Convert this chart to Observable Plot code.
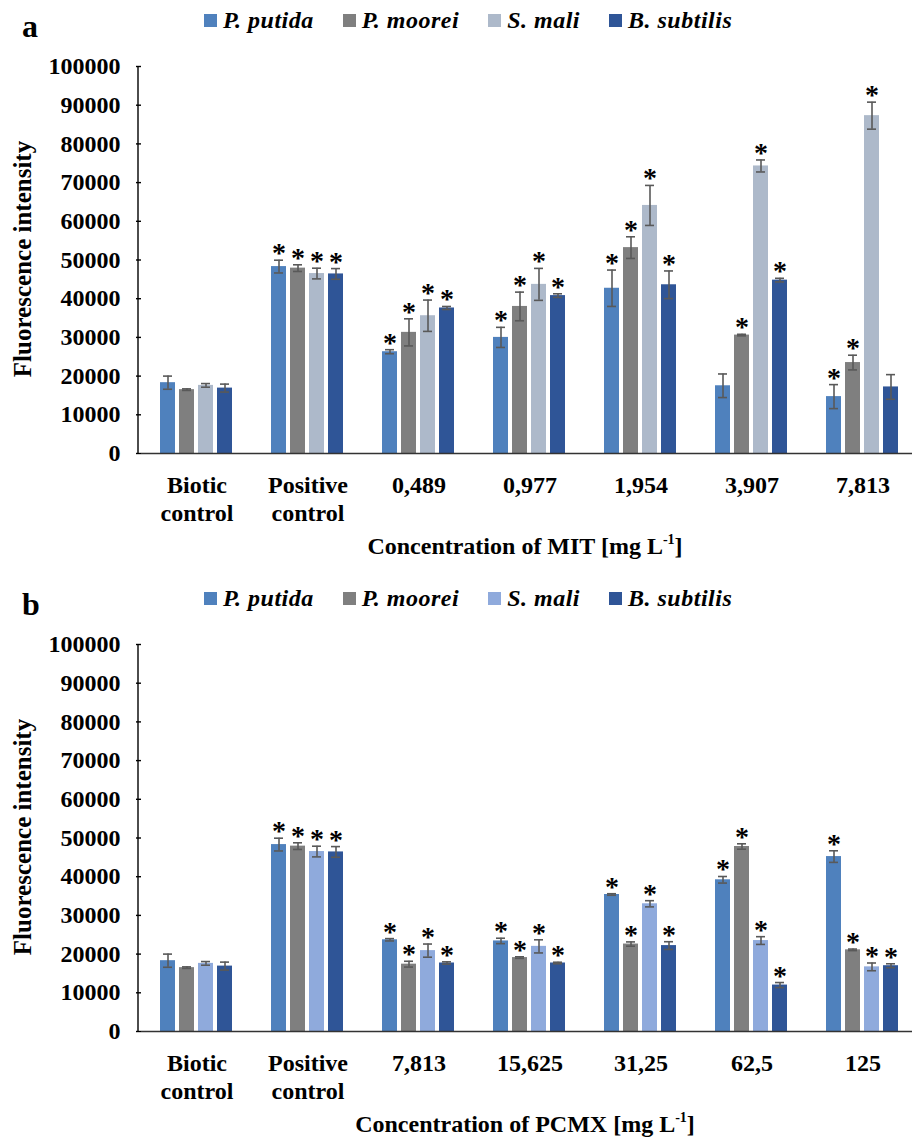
<!DOCTYPE html>
<html>
<head>
<meta charset="utf-8">
<script src="https://cdn.jsdelivr.net/npm/d3@7"></script>
<script src="https://cdn.jsdelivr.net/npm/@observablehq/plot@0.6"></script>
<style>
  html, body { margin: 0; padding: 0; background: #fff; overflow: hidden; }
  #root { position: relative; width: 912px; height: 1138px; overflow: hidden;
          font-family: 'Liberation Serif', 'Times New Roman', serif; color: #000; }
  .panel { position: absolute; left: 0; width: 912px; height: 560px; }
  .panel svg { position: absolute; left: 0; top: 0; overflow: visible; }
  .tag { position: absolute; left: 22px; top: 10px; font-weight: bold; font-size: 32px; line-height: 32px; }
  .legend { position: absolute; left: 204px; top: 8px; display: flex; align-items: center; gap: 29px;
            font-weight: bold; font-style: italic; font-size: 24px; line-height: 24px; letter-spacing: 0.5px; white-space: nowrap; }
  .legend .item { display: flex; align-items: center; }
  .legend .sw { width: 13px; height: 13px; margin-right: 6px; }
  .ylabel { position: absolute; left: -177px; top: 244px; width: 400px; height: 30px; line-height: 30px;
            text-align: center; font-weight: bold; font-size: 25px; transform: rotate(-90deg); white-space: nowrap; }
  .xtitle { position: absolute; left: 138px; width: 774px; top: 531px; text-align: center;
            font-weight: bold; font-size: 24px; line-height: 30px; white-space: nowrap; }
  .xtitle sup { font-size: 14px; vertical-align: baseline; position: relative; top: -10px; }
</style>
</head>
<body>
<div id="root"></div>
<script>
// Species shown in both panels
const species = ["P. putida", "P. moorei", "S. mali", "B. subtilis"];

// Panel a: MIT concentrations [mg L-1]
const groupsMIT = ["Biotic control", "Positive control", "0,489", "0,977", "1,954", "3,907", "7,813"];
const putidaMIT   = [18300, 48300, 26300, 30000, 42700, 17500, 14700];
const mooreiMIT   = [16500, 47900, 31300, 38000, 53200, 30600, 23500];
const maliMIT     = [17600, 46500, 35600, 43700, 64100, 74300, 87300];
const subtilisMIT = [16900, 46400, 37600, 40800, 43600, 44800, 17200];
const putidaMITErr   = [1700, 1650, 520, 2600, 4700, 3050, 3100];
const mooreiMITErr   = [200, 860, 3500, 3700, 2800, 200, 1900];
const maliMITErr     = [470, 1380, 4050, 4130, 5170, 1550, 3490];
const subtilisMITErr = [1030, 1380, 390, 470, 3570, 470, 3180];
// significance markers (1 = asterisk drawn)
const putidaMITSig   = [0, 1, 1, 1, 1, 0, 1];
const mooreiMITSig   = [0, 1, 1, 1, 1, 1, 1];
const maliMITSig     = [0, 1, 1, 1, 1, 1, 1];
const subtilisMITSig = [0, 1, 1, 1, 1, 1, 0];

// Panel b: PCMX concentrations [mg L-1]
const groupsPCMX = ["Biotic control", "Positive control", "7,813", "15,625", "31,25", "62,5", "125"];
const putidaPCMX   = [18300, 48300, 23700, 23400, 35400, 39200, 45200];
const mooreiPCMX   = [16500, 47900, 17400, 19100, 22600, 47800, 21100];
const maliPCMX     = [17600, 46500, 20900, 22000, 33000, 23500, 16700];
const subtilisPCMX = [16900, 46400, 17700, 17700, 22200, 12000, 17000];
const putidaPCMXErr   = [1700, 1650, 300, 700, 200, 850, 1500];
const mooreiPCMXErr   = [200, 860, 750, 200, 550, 700, 200];
const maliPCMXErr     = [470, 1380, 1700, 1700, 800, 1000, 1000];
const subtilisPCMXErr = [1030, 1380, 300, 200, 1000, 650, 500];
const putidaPCMXSig   = [0, 1, 1, 1, 1, 1, 1];
const mooreiPCMXSig   = [0, 1, 1, 1, 1, 1, 1];
const maliPCMXSig     = [0, 1, 1, 1, 1, 1, 1];
const subtilisPCMXSig = [0, 1, 1, 1, 1, 1, 1];

// Axis ticks
const yTicks = [0, 10000, 20000, 30000, 40000, 50000, 60000, 70000, 80000, 90000, 100000];

// Colours
const colorsMIT  = ["#4F81BD", "#7F7F7F", "#ADB9CA", "#2F5597"];
const colorsPCMX = ["#4F81BD", "#7F7F7F", "#8FAADC", "#2F5597"];
const errColor = "#595959";

const font = "'Liberation Serif', 'Times New Roman', serif";

function buildRows(groups, values, errors, sig) {
  return groups.flatMap((g, i) => species.map((s, j) => ({
    group: g, species: s, value: values[j][i], err: errors[j][i], sig: sig[j][i] === 1
  })));
}

function drawPanel({top, tag, groups, values, errors, sig, colors, title}) {
  const root = document.getElementById("root");
  const panel = document.createElement("div");
  panel.className = "panel";
  panel.style.top = top + "px";
  root.appendChild(panel);

  const data = buildRows(groups, values, errors, sig);
  const marginLeft = 138;

  const chart = Plot.plot({
    width: 912,
    height: 560,
    marginTop: 66,
    marginBottom: 107,
    marginLeft,
    marginRight: 0,
    style: {fontFamily: font, fontWeight: "bold", fontSize: "24px", color: "#000", background: "transparent", overflow: "visible"},
    fx: {domain: groups, range: [marginLeft, 920], padding: 0, label: null},
    x: {domain: species, paddingInner: 0.2, paddingOuter: 0.9, axis: null},
    y: {domain: [0, 100000], label: null},
    color: {domain: species, range: colors},
    marks: [
      Plot.barY(data, {fx: "group", x: "species", y: "value", fill: "species"}),
      Plot.ruleX(data, {fx: "group", x: "species", y1: d => d.value - d.err, y2: d => d.value + d.err,
                        stroke: errColor, strokeWidth: 1.6}),
      Plot.tickY(data, {fx: "group", x: "species", y: d => d.value - d.err, stroke: errColor, strokeWidth: 1.6,
                        insetLeft: 3, insetRight: 3}),
      Plot.tickY(data, {fx: "group", x: "species", y: d => d.value + d.err, stroke: errColor, strokeWidth: 1.6,
                        insetLeft: 3, insetRight: 3}),
      Plot.text(data.filter(d => d.sig), {fx: "group", x: "species", y: d => d.value + d.err, text: () => "*",
                        fontSize: 28, fontWeight: "bold", fill: "#000", dy: -7}),
      Plot.ruleY([0], {stroke: "#333", strokeWidth: 1.6}),
      Plot.axisY({ticks: yTicks, tickSize: 5, tickPadding: 16, tickFormat: d => String(d), fontSize: 24,
                  label: null, stroke: "#000", strokeWidth: 1.4}),
      Plot.axisFx({anchor: "bottom", tickSize: 0, tickPadding: 19, fontSize: 24, lineHeight: 1.19, label: null,
                   tickFormat: d => d.replace(" ", "\n")})
    ]
  });

  // vertical axis line along the left edge of the frame
  const y = chart.scale("y");
  d3.select(chart).append("line")
    .attr("x1", marginLeft).attr("x2", marginLeft)
    .attr("y1", y.apply(y.domain[1])).attr("y2", y.apply(y.domain[0]))
    .attr("stroke", "#000").attr("stroke-width", 1.4);

  panel.appendChild(chart);

  const tagEl = document.createElement("div");
  tagEl.className = "tag";
  tagEl.textContent = tag;
  panel.appendChild(tagEl);

  const legend = document.createElement("div");
  legend.className = "legend";
  species.forEach((s, i) => {
    const item = document.createElement("div");
    item.className = "item";
    const sw = document.createElement("span");
    sw.className = "sw";
    sw.style.background = colors[i];
    const label = document.createElement("span");
    label.textContent = s;
    item.appendChild(sw);
    item.appendChild(label);
    legend.appendChild(item);
  });
  panel.appendChild(legend);

  const yl = document.createElement("div");
  yl.className = "ylabel";
  yl.textContent = "Fluorescence intensity";
  panel.appendChild(yl);

  const xt = document.createElement("div");
  xt.className = "xtitle";
  xt.innerHTML = title + " [mg L<sup>-1</sup>]";
  panel.appendChild(xt);
}

drawPanel({
  top: 0, tag: "a", groups: groupsMIT,
  values: [putidaMIT, mooreiMIT, maliMIT, subtilisMIT],
  errors: [putidaMITErr, mooreiMITErr, maliMITErr, subtilisMITErr],
  sig: [putidaMITSig, mooreiMITSig, maliMITSig, subtilisMITSig],
  colors: colorsMIT, title: "Concentration of MIT"
});

drawPanel({
  top: 578, tag: "b", groups: groupsPCMX,
  values: [putidaPCMX, mooreiPCMX, maliPCMX, subtilisPCMX],
  errors: [putidaPCMXErr, mooreiPCMXErr, maliPCMXErr, subtilisPCMXErr],
  sig: [putidaPCMXSig, mooreiPCMXSig, maliPCMXSig, subtilisPCMXSig],
  colors: colorsPCMX, title: "Concentration of PCMX"
});
</script>
</body>
</html>
